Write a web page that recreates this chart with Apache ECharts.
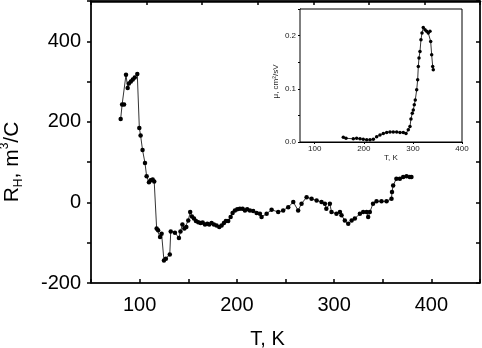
<!DOCTYPE html>
<html>
<head>
<meta charset="utf-8">
<script src="https://cdn.jsdelivr.net/npm/echarts@6/dist/echarts.min.js"></script>
<style>
  html, body { margin: 0; padding: 0; background: #fff; }
  #chart { width: 482px; height: 348px; }
</style>
</head>
<body>
<div id="chart"></div>
<script>
// main panel: Hall coefficient vs temperature
const tempK = [80.5, 82, 84, 86, 87.7, 89, 91, 93, 95, 97.6, 99.7, 101, 103, 105.5, 107.2, 109.6, 111.3, 113.4, 115,
  117.5, 119, 121, 122.6, 125, 127, 131, 132, 136.3, 140.4, 142, 144, 146, 148, 150, 152, 153.8, 155.9, 157.9,
  160.3, 162.7, 164.8, 167.2, 169.6, 171.6, 174, 176.4, 179.1, 181.9, 184.3, 186.7, 188.7, 191.1, 193.6, 195.6,
  198, 200.4, 203.1, 205.9, 208.3, 210.6, 213.4, 216.8, 220.3, 223.7, 225.4, 230.6, 235.7, 242.5, 247.6, 252.8,
  258, 263, 266.5, 271.7, 276.8, 282, 287, 290.5, 292, 295.6, 297.3, 302.4, 306, 307.6, 311, 314.5, 318, 321.3,
  326.5, 329.9, 333.4, 335, 336.7, 340, 343.6, 348.7, 353.9, 359, 359.5, 360.7, 364, 367.6, 371, 374.5, 377.8, 379.5]
const hallR = [207, 243, 243, 317, 284, 295, 300, 305, 310, 319, 185, 166, 130, 98, 65, 50, 55, 57, 52,
  -65, -69, -86, -78, -144, -140, -129, -72, -75, -88, -72, -55, -65, -61, -45, -24, -35, -40, -46,
  -49, -51, -50, -55, -53, -55, -51, -55, -57, -61, -57, -51, -46, -46, -36, -26,
  -20, -17, -16, -16, -20, -17, -20, -21, -26, -28, -36, -28, -18, -24, -20, -12,
  1, -20, -3, 13, 9, 5, 1, -3, -16, -3, -24, -28, -24, -32, -45, -53, -45, -40,
  -28, -24, -24, -36, -24, -3, 3, 3, 3, 9, 26, 42, 59, 59, 63, 65, 63, 63]

// inset: mobility vs temperature
const insetT = [158.2, 163.7, 178.6, 185.4, 192.2, 198.9, 205.8, 212.6, 219.3, 226.2, 232.9, 239.7, 246.6, 253.3,
  260, 267, 273.7, 280.4, 285.9, 290.6, 294, 296, 298.7, 300.8, 302.8, 304.8, 307.7, 309.7, 311, 312.4, 314.4,
  316.4, 318.5, 321.1, 324.6, 328, 331.3, 334.8, 336.2, 338.2, 340.3, 341.5]
const insetMu = [0.009, 0.007, 0.006, 0.007, 0.006, 0.005, 0.004, 0.004, 0.005, 0.010, 0.013, 0.016, 0.018, 0.019,
  0.019, 0.019, 0.018, 0.018, 0.016, 0.023, 0.029, 0.043, 0.054, 0.060, 0.070, 0.079, 0.098, 0.117, 0.142, 0.158,
  0.170, 0.192, 0.205, 0.215, 0.211, 0.208, 0.205, 0.208, 0.189, 0.164, 0.142, 0.136]

const mainXLabels = [100, 200, 300, 400]
const mainYLabels = [-200, 0, 200, 400]
const insetXLabels = [100, 200, 300, 400]

const font = 'Liberation Sans, Arial, sans-serif'
const mainData = tempK.map((t, i) => [t, hallR[i]])
const insetData = insetT.map((t, i) => [t, insetMu[i]])

const option = {
  animation: false,
  backgroundColor: '#fff',
  textStyle: { fontFamily: font, color: '#000' },
  grid: [
    { left: 91, right: 2, top: 1, bottom: 65, show: true, borderColor: '#000', borderWidth: 1, outerBoundsMode: 'none' },
    { left: 300, top: 9, width: 162, height: 133, show: true, borderColor: '#000', borderWidth: 1, backgroundColor: '#fff', z: 10, outerBoundsMode: 'none' }
  ],
  xAxis: [
    {
      gridIndex: 0, type: 'value', min: 50, max: 450, interval: 50,
      name: 'T, K', nameLocation: 'middle', nameGap: 46,
      nameTextStyle: { fontSize: 20, color: '#000', padding: [0, 36, 0, 0] },
      axisLine: { onZero: false, lineStyle: { color: '#000', width: 1.5 } },
      axisTick: { inside: true, length: 4, lineStyle: { color: '#000', width: 1.5 } },
      axisLabel: {
        fontSize: 20, color: '#000', margin: 12,
        formatter: v => (mainXLabels.includes(v) ? String(v) : '')
      },
      splitLine: { show: false }
    },
    {
      gridIndex: 0, type: 'value', position: 'top', min: 0, max: 7, interval: 1,
      axisLine: { onZero: false, lineStyle: { color: '#000', width: 2.5 } },
      axisTick: { inside: true, length: 4, lineStyle: { color: '#000', width: 1.5 } },
      axisLabel: { show: false },
      splitLine: { show: false }
    },
    {
      gridIndex: 1, type: 'value', min: 70, max: 400,
      name: 'T, K', nameLocation: 'middle', nameGap: 10,
      nameTextStyle: { fontSize: 8, color: '#222', padding: [0, 0, 0, 20] },
      axisLine: { onZero: false, lineStyle: { color: '#000', width: 1 } },
      axisTick: { length: 2, customValues: insetXLabels, lineStyle: { color: '#000' } },
      axisLabel: { fontSize: 8, color: '#222', margin: 3, customValues: insetXLabels },
      splitLine: { show: false }
    }
  ],
  yAxis: [
    {
      gridIndex: 0, type: 'value', min: -200, max: 500, interval: 100,
      name: '{a|R}{b|H}{a|, m}{c|3}{a|/C}', nameLocation: 'middle', nameGap: 66, nameRotate: 90,
      nameTextStyle: {
        padding: [0, 40, 0, 0],
        rich: {
          a: { fontSize: 21, color: '#000', fontFamily: font, lineHeight: 26 },
          b: { fontSize: 12, color: '#000', fontFamily: font, verticalAlign: 'bottom', lineHeight: 26 },
          c: { fontSize: 12, color: '#000', fontFamily: font, verticalAlign: 'top', lineHeight: 26 }
        }
      },
      axisLine: { onZero: false, lineStyle: { color: '#000', width: 1.5 } },
      axisTick: { length: 4, lineStyle: { color: '#000', width: 1.5 } },
      axisLabel: {
        fontSize: 20, color: '#000', margin: 10,
        formatter: v => (mainYLabels.includes(v) ? String(v) : '')
      },
      splitLine: { show: false }
    },
    {
      gridIndex: 0, type: 'value', position: 'right', min: -200, max: 500, interval: 100,
      axisLine: { onZero: false, lineStyle: { color: '#000', width: 1.5 } },
      axisTick: { inside: true, length: 4, lineStyle: { color: '#000', width: 1.5 } },
      axisLabel: { show: false },
      splitLine: { show: false }
    },
    {
      gridIndex: 1, type: 'value', min: 0, max: 0.25, interval: 0.05,
      name: 'μ, cm²/sV', nameLocation: 'middle', nameGap: 20, nameRotate: 90,
      nameTextStyle: { fontSize: 8, color: '#222', padding: [0, 12, 0, 0] },
      axisLine: { onZero: false, lineStyle: { color: '#000', width: 1 } },
      axisTick: { length: 2, lineStyle: { color: '#000' } },
      axisLabel: {
        fontSize: 8, color: '#222', margin: 4,
        formatter: v => (Math.round(v * 100) % 10 === 0 && v < 0.24 ? v.toFixed(1) : '')
      },
      splitLine: { show: false }
    }
  ],
  series: [
    {
      name: 'R_H', type: 'line', xAxisIndex: 0, yAxisIndex: 0,
      symbol: 'circle', symbolSize: 4.5,
      itemStyle: { color: '#000' },
      lineStyle: { color: '#000', width: 0.8 },
      data: mainData
    },
    {
      name: 'mu', type: 'line', xAxisIndex: 2, yAxisIndex: 2, z: 12,
      symbol: 'circle', symbolSize: 3.5,
      itemStyle: { color: '#000' },
      lineStyle: { color: '#000', width: 0.8 },
      data: insetData
    }
  ]
}

const chart = echarts.init(document.getElementById('chart'))
chart.setOption(option)
window.addEventListener('resize', () => chart.resize())
</script>
</body>
</html>
